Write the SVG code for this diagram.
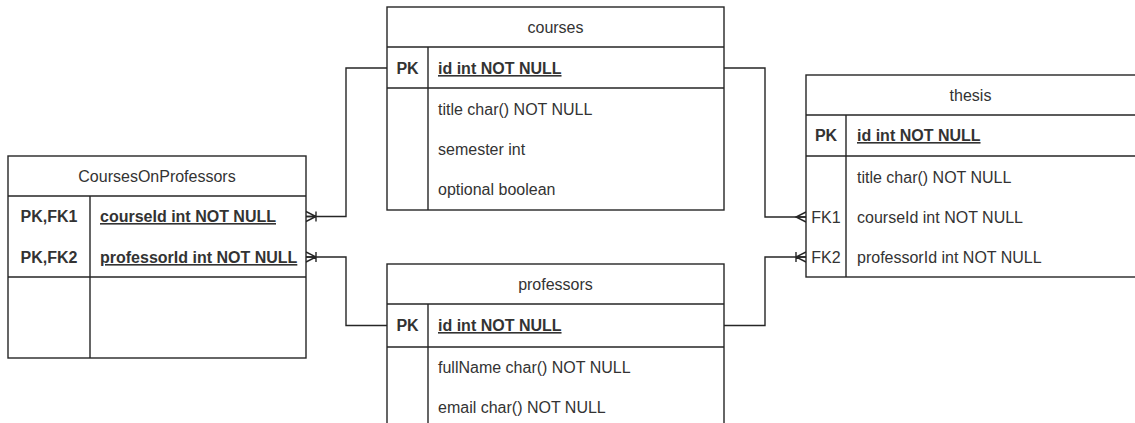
<svg xmlns="http://www.w3.org/2000/svg" width="1135" height="423" viewBox="0 0 1135 423">
<defs>
<style>
.box{fill:#ffffff;stroke:#262626;stroke-width:1.4}
.ln{fill:none;stroke:#262626;stroke-width:1.4}
.conn{fill:none;stroke:#262626;stroke-width:1.4}
text{font-family:"Liberation Sans",Arial,sans-serif;font-size:16px;fill:#333333}
.hd{text-anchor:middle}
.key{text-anchor:middle}
.b{font-weight:bold}
.u{text-decoration:underline}
</style>
<marker id="many" viewBox="-13 -7 15 14" refX="0" refY="0" markerWidth="15" markerHeight="14" markerUnits="userSpaceOnUse" orient="auto" overflow="visible">
<path d="M0,-5 L-10,0 L0,5 M0,0 L-10,0" fill="none" stroke="#262626" stroke-width="1.4"/>
</marker>
<marker id="oneMany" viewBox="-13 -7 15 14" refX="0" refY="0" markerWidth="15" markerHeight="14" markerUnits="userSpaceOnUse" orient="auto" overflow="visible">
<path d="M0,-5 L-10,0 L0,5 M0,0 L-10,0 M-10,-5 L-10,5" fill="none" stroke="#262626" stroke-width="1.4"/>
</marker>
</defs>

<g id="connectors">
<path class="conn" d="M387,68 L346,68 L346,216.5 L306,216.5" marker-end="url(#oneMany)"/>
<path class="conn" d="M387,325.5 L346,325.5 L346,257 L306,257" marker-end="url(#oneMany)"/>
<path class="conn" d="M724,68 L765,68 L765,217 L806,217" marker-end="url(#many)"/>
<path class="conn" d="M724,325.5 L765,325.5 L765,257 L806,257" marker-end="url(#oneMany)"/>
</g>

<g id="CoursesOnProfessors">
<rect class="box" x="8" y="156" width="298" height="202"/>
<path class="ln" d="M8,196 H306 M8,277 H306 M90,196 V358"/>
<text class="hd" x="157" y="182">CoursesOnProfessors</text>
<text class="key b" x="49" y="222">PK,FK1</text>
<text class="b u" x="100" y="222">courseId int NOT NULL</text>
<text class="key b" x="49" y="263">PK,FK2</text>
<text class="b u" x="100" y="263">professorId int NOT NULL</text>
</g>

<g id="courses">
<rect class="box" x="387" y="7" width="337" height="203"/>
<path class="ln" d="M387,47 H724 M387,88 H724 M428,47 V210"/>
<text class="hd" x="555.5" y="33">courses</text>
<text class="key b" x="407.5" y="74">PK</text>
<text class="b u" x="438" y="74">id int NOT NULL</text>
<text x="438" y="115">title char() NOT NULL</text>
<text x="438" y="155">semester int</text>
<text x="438" y="195">optional boolean</text>
</g>

<g id="professors">
<rect class="box" x="387" y="264" width="337" height="180"/>
<path class="ln" d="M387,304 H724 M387,347 H724 M428,304 V444"/>
<text class="hd" x="555.5" y="290">professors</text>
<text class="key b" x="407.5" y="331">PK</text>
<text class="b u" x="438" y="331">id int NOT NULL</text>
<text x="438" y="373">fullName char() NOT NULL</text>
<text x="438" y="413">email char() NOT NULL</text>
</g>

<g id="thesis">
<rect class="box" x="806" y="75" width="340" height="202"/>
<path class="ln" d="M806,115 H1146 M806,156 H1146 M846,115 V277"/>
<text class="hd" x="970.5" y="101">thesis</text>
<text class="key b" x="826" y="141">PK</text>
<text class="b u" x="857" y="141">id int NOT NULL</text>
<text x="857" y="183">title char() NOT NULL</text>
<text class="key" x="826" y="223">FK1</text>
<text x="857" y="223">courseId int NOT NULL</text>
<text class="key" x="826" y="263">FK2</text>
<text x="857" y="263">professorId int NOT NULL</text>
</g>
</svg>
